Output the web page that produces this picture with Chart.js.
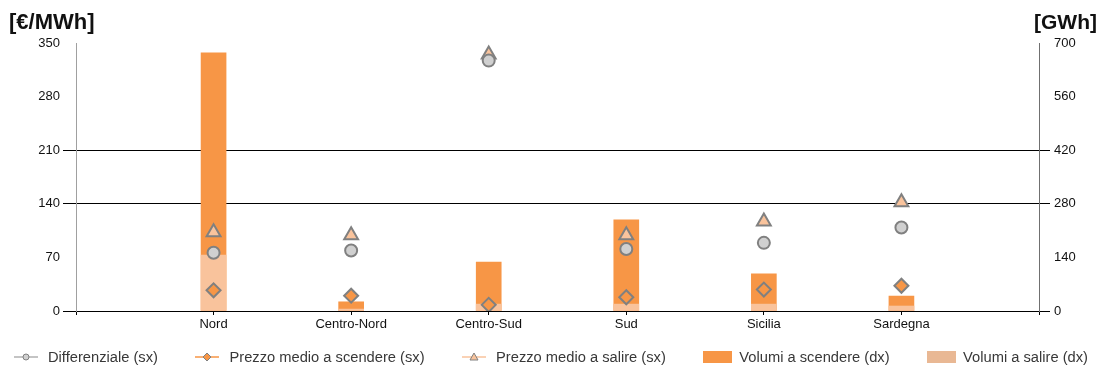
<!DOCTYPE html>
<html>
<head>
<meta charset="utf-8">
<script src="https://cdn.jsdelivr.net/npm/chart.js@4.4.1/dist/chart.umd.min.js"></script>
<style>
  html, body { margin: 0; padding: 0; background: #fff; }
  #wrap { position: relative; width: 1103px; height: 374px; }
  #legend {
    position: absolute; left: 14px; right: 15px; top: 349px;
    display: flex; justify-content: space-between; align-items: center;
    font: 14.7px "Liberation Sans", Arial, sans-serif; color: #383838; line-height: 16px;
  }
  #legend .item { display: flex; align-items: center; white-space: nowrap; }
  #legend canvas { display: block; }
</style>
</head>
<body>
<div id="wrap">
  <canvas id="mgpChart"></canvas>
  <div id="legend"></div>
</div>
<script>
// zone di mercato (slot vuoti ai lati come nel grafico originale)
const zones = ['Nord', 'Centro-Nord', 'Centro-Sud', 'Sud', 'Sicilia', 'Sardegna'];
const differenziale = [76, 79, 327, 81, 89, 109];      // €/MWh
const prezzoScendere = [27, 20, 8, 18, 28, 33];        // €/MWh
const prezzoSalire = [103, 99, 335, 99, 117, 142];     // €/MWh
const volumiScendere = [674, 24, 128, 238, 97, 39];    // GWh
const volumiSalire = [146, 5, 18, 18, 18, 13];         // GWh
const leftTicks = [0, 70, 140, 210, 280, 350];
const rightTicks = [0, 140, 280, 420, 560, 700];

const pad = arr => [null, ...arr, null];
const labels = ['', ...zones, ''];

const ORANGE = '#f79646';
const PEACH = '#f9c39c';
const GREY = '#808080';

// icone della legenda
function lineIcon(lineColor, shape, fill) {
  const c = document.createElement('canvas');
  c.width = 24; c.height = 12;
  const g = c.getContext('2d');
  g.strokeStyle = lineColor; g.lineWidth = 1.5;
  g.beginPath(); g.moveTo(0, 6); g.lineTo(24, 6); g.stroke();
  g.fillStyle = fill; g.strokeStyle = GREY; g.lineWidth = 1;
  g.beginPath();
  if (shape === 'circle') g.arc(12, 6, 3, 0, Math.PI * 2);
  else if (shape === 'diamond') { g.moveTo(12, 2); g.lineTo(16, 6); g.lineTo(12, 10); g.lineTo(8, 6); g.closePath(); }
  else { g.moveTo(12, 2); g.lineTo(16, 9); g.lineTo(8, 9); g.closePath(); }
  g.fill(); g.stroke();
  c.style.marginRight = '10px';
  return c;
}
function boxIcon(color) {
  const c = document.createElement('canvas');
  c.width = 29; c.height = 12;
  const g = c.getContext('2d');
  g.fillStyle = color;
  g.fillRect(0, 0, 29, 12);
  c.style.marginRight = '7px';
  return c;
}
const icons = [
  () => lineIcon('#b0b0b0', 'circle', '#d0d0d0'),
  () => lineIcon(ORANGE, 'diamond', ORANGE),
  () => lineIcon(PEACH, 'triangle', PEACH),
  () => boxIcon(ORANGE),
  () => boxIcon('#e9b894')
];

const unitTitles = {
  id: 'unitTitles',
  afterDraw(chart) {
    const ctx = chart.ctx;
    ctx.save();
    ctx.font = 'bold 22px "Liberation Sans", Arial, sans-serif';
    ctx.fillStyle = '#111';
    ctx.textBaseline = 'alphabetic';
    ctx.textAlign = 'left';
    ctx.fillText('[€/MWh]', 9, 29);
    ctx.font = 'bold 21px "Liberation Sans", Arial, sans-serif';
    ctx.textAlign = 'right';
    ctx.fillText('[GWh]', chart.width - 6, 29);
    ctx.restore();
  }
};

Chart.defaults.font.family = '"Liberation Sans", Arial, sans-serif';
Chart.defaults.color = '#111';

const pointBase = { type: 'line', showLine: false, yAxisID: 'y', order: 0, pointBorderColor: GREY, pointBorderWidth: 2 };

const chart = new Chart(document.getElementById('mgpChart'), {
  type: 'bar',
  data: {
    labels: labels,
    datasets: [
      Object.assign({}, pointBase, { label: 'Differenziale (sx)', data: pad(differenziale), pointStyle: 'circle', pointRadius: 6, pointBackgroundColor: '#d0d0d0', borderColor: '#b0b0b0', backgroundColor: '#d0d0d0' }),
      Object.assign({}, pointBase, { label: 'Prezzo medio a scendere (sx)', data: pad(prezzoScendere), pointStyle: 'rectRot', pointRadius: 7, pointBackgroundColor: ORANGE, borderColor: ORANGE, backgroundColor: ORANGE }),
      Object.assign({}, pointBase, { label: 'Prezzo medio a salire (sx)', data: pad(prezzoSalire), pointStyle: 'triangle', pointRadius: 8, pointBackgroundColor: PEACH, borderColor: PEACH, backgroundColor: PEACH }),
      { label: 'Volumi a scendere (dx)', data: pad(volumiScendere), backgroundColor: ORANGE, yAxisID: 'y1', order: 2, barThickness: 25, grouped: false },
      { label: 'Volumi a salire (dx)', data: pad(volumiSalire), backgroundColor: PEACH, yAxisID: 'y1', order: 1, barThickness: 25, grouped: false }
    ]
  },
  options: {
    responsive: true,
    maintainAspectRatio: false,
    animation: false,
    layout: { padding: { top: 43, left: 0, right: 0, bottom: 0 } },
    plugins: {
      tooltip: { enabled: false },
      legend: { display: false }
    },
    scales: {
      x: {
        offset: false,
        grid: { offset: false, drawOnChartArea: false, drawTicks: true, tickLength: 4, color: '#000' },
        border: { color: '#000', width: 1 },
        ticks: { autoSkip: false, maxRotation: 0, padding: 2, font: { size: 13 }, color: '#111' },
        afterFit(scale) { scale.height = 63; }
      },
      y: {
        position: 'left',
        min: 0, max: 350,
        afterBuildTicks(scale) { scale.ticks = leftTicks.map(v => ({ value: v })); },
        grid: {
          tickLength: 13,
          color: ctx => [0, 140, 210].includes(ctx.tick.value) ? '#000' : 'rgba(0,0,0,0)'
        },
        border: { color: '#a0a0a0', width: 1 },
        ticks: { padding: 3, font: { size: 13 }, color: '#111' },
        afterFit(scale) { scale.width = 76; }
      },
      y1: {
        position: 'right',
        min: 0, max: 700,
        afterBuildTicks(scale) { scale.ticks = rightTicks.map(v => ({ value: v })); },
        grid: {
          drawOnChartArea: false,
          tickLength: 11,
          color: ctx => [0, 280, 420].includes(ctx.tick.value) ? '#000' : 'rgba(0,0,0,0)'
        },
        border: { color: '#707070', width: 1 },
        ticks: { padding: 4, font: { size: 13 }, color: '#111' },
        afterFit(scale) { scale.width = 64; }
      }
    }
  },
  plugins: [unitTitles]
});

// legenda HTML costruita dai dataset
const legendEl = document.getElementById('legend');
chart.data.datasets.forEach((ds, i) => {
  const item = document.createElement('div');
  item.className = 'item';
  item.appendChild(icons[i]());
  const txt = document.createElement('span');
  txt.textContent = ds.label;
  item.appendChild(txt);
  legendEl.appendChild(item);
});
</script>
</body>
</html>
